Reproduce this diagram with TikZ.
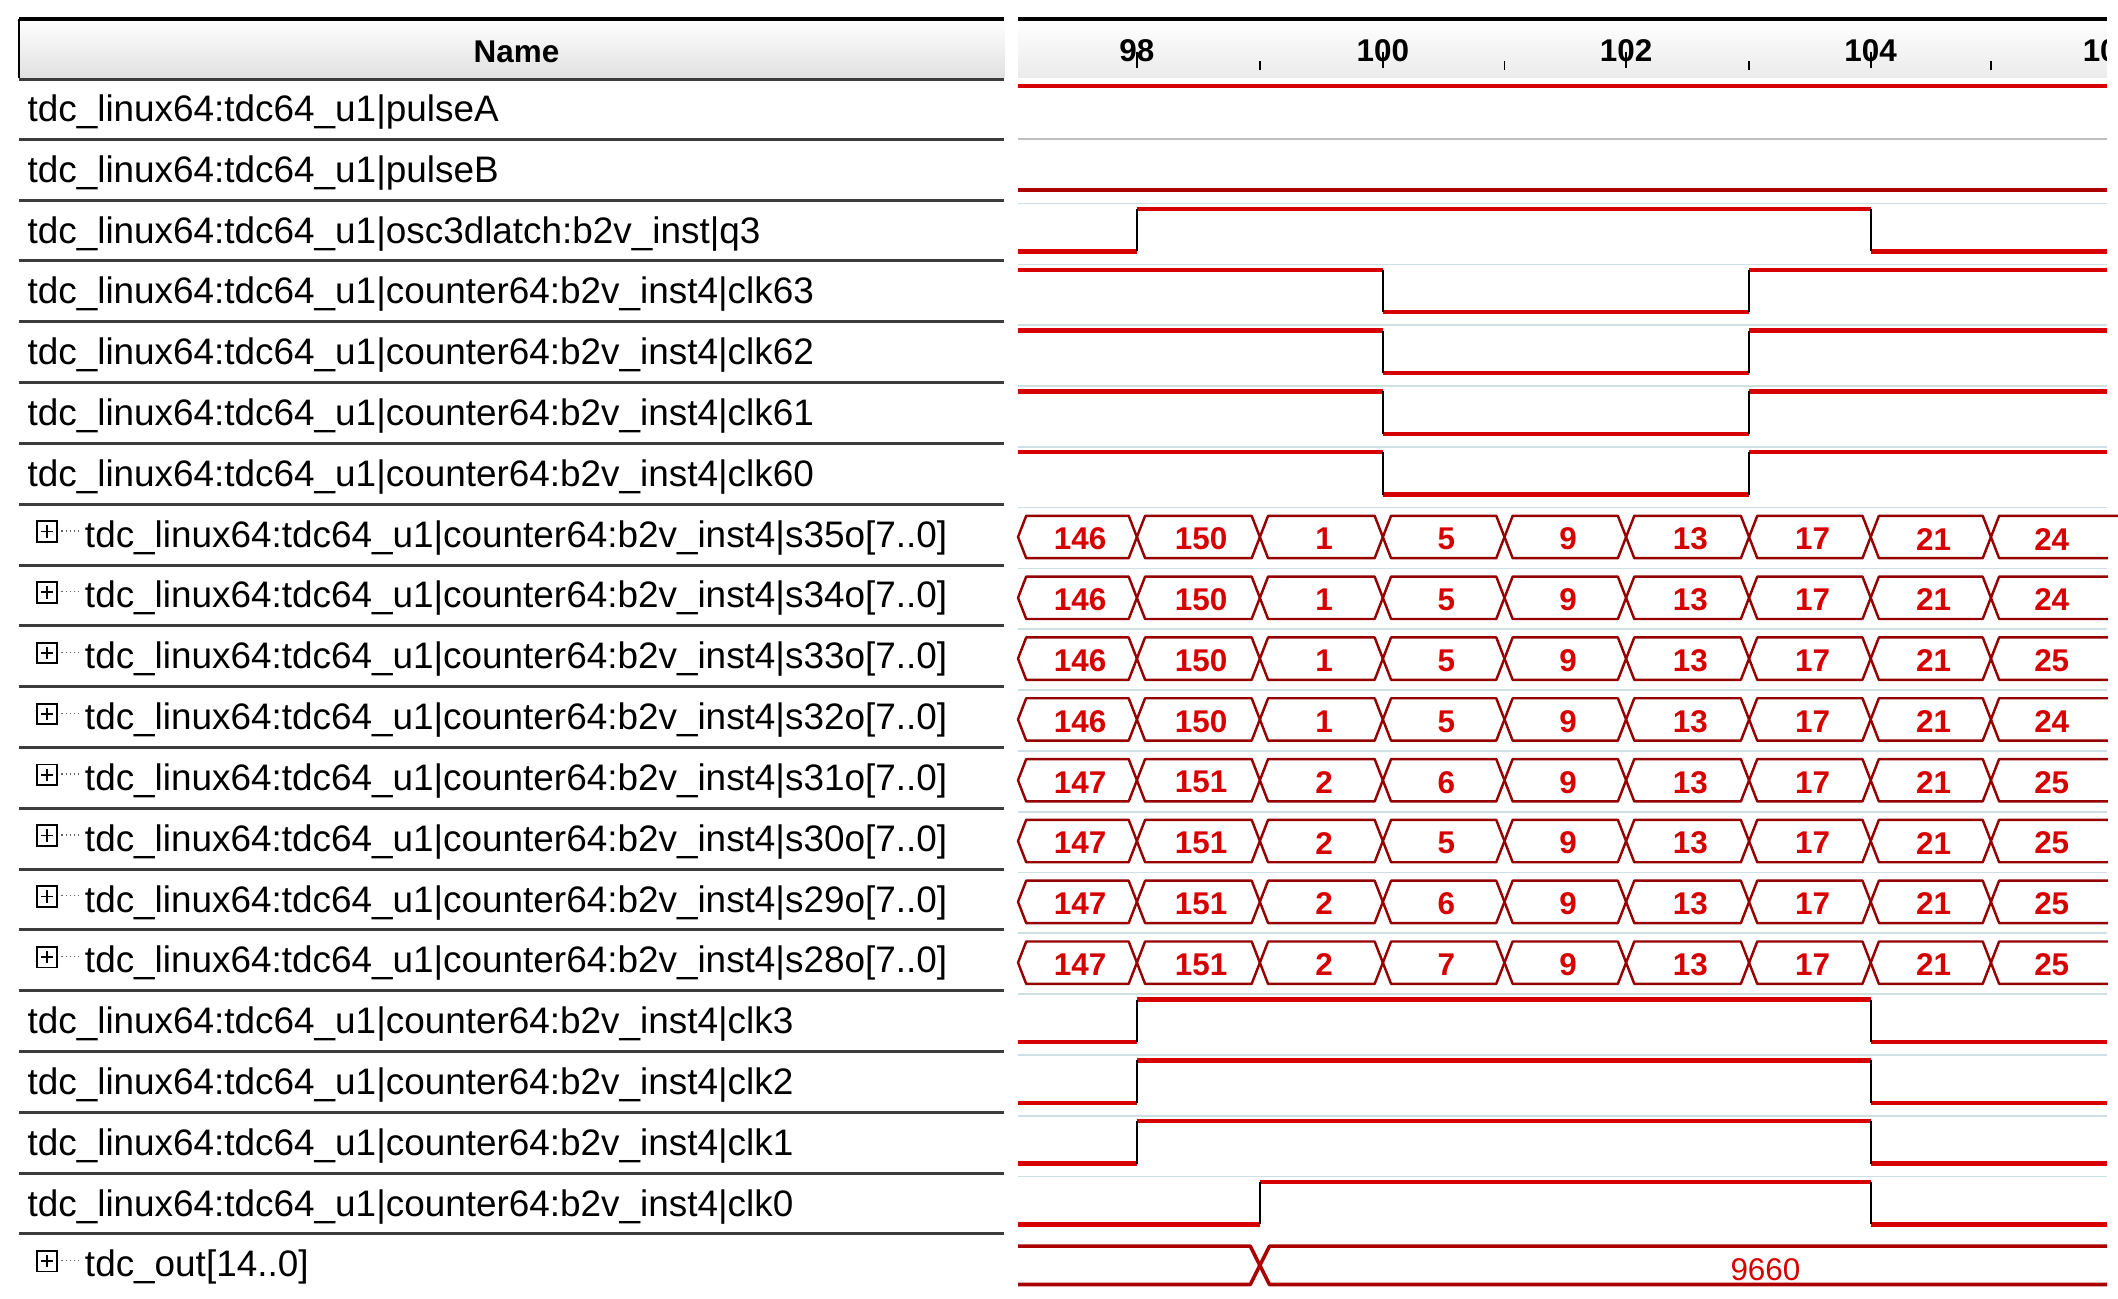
\documentclass[tikz,border=0pt]{standalone}
\usepackage{fontspec}
\setmainfont{Liberation Sans}
\definecolor{wred}{RGB}{215,0,0}
\definecolor{sepgray}{RGB}{60,60,60}
\definecolor{faint}{RGB}{205,225,228}
\begin{document}
\begin{tikzpicture}[x=1pt,y=-1pt,
  lbl/.style={anchor=west,inner sep=0pt,font=\fontsize{27}{27}\selectfont},
  val/.style={inner sep=0pt,text=wred,font=\bfseries\fontsize{23}{23}\selectfont},
  wave/.style={draw=wred,line width=3.2pt},
  edge/.style={draw=black,line width=1.2pt},
  buscell/.style={draw=wred!70!black,line width=1.8pt,line join=round},
  sep/.style={draw=sepgray,line width=2.2pt},
  fsep/.style={draw=faint,line width=1.2pt}]
\useasboundingbox (0,0) rectangle (1550,950);
\fill[white] (0,0) rectangle (1550,950);
% header
\shade[top color=white,bottom color=black!12] (14,14) rectangle (735,57);
\shade[top color=white,bottom color=black!8] (745,14) rectangle (1542,57);
\draw[line width=2.5pt] (14,14) -- (735,14);
\draw[line width=2.5pt] (745,14) -- (1542,14);
\draw[line width=1.5pt] (14,14) -- (14,57);
\draw[sep] (14,58) -- (735,58);
\node[inner sep=0pt,font=\bfseries\fontsize{23}{23}\selectfont] (hname) at (378,38) {Name};
\foreach \t/\x in {98/832,100/1012,102/1190,104/1369}{
  \node[inner sep=0pt,font=\bfseries\fontsize{23}{23}\selectfont] (tk\t) at (\x,37) {\t};
  \draw[line width=1.2pt] (\x,38) -- (\x,50);}
\node[inner sep=0pt,anchor=west,font=\bfseries\fontsize{23}{23}\selectfont] (tk106) at (1524,37) {10};
\fill[white] (1542,14) rectangle (1550,60);
\foreach \x in {922,1101,1280,1457}{\draw[line width=1.2pt] (\x,45) -- (\x,51);}
% labels
\def\pre{tdc\_linux64:tdc64\_u1|}
\def\cnt{counter64:b2v\_inst4|}
\foreach \k/\txt/\bus in {
 0/{\pre pulseA}/0, 1/{\pre pulseB}/0, 2/{\pre osc3dlatch:b2v\_inst|q3}/0,
 3/{\pre\cnt clk63}/0, 4/{\pre\cnt clk62}/0, 5/{\pre\cnt clk61}/0, 6/{\pre\cnt clk60}/0,
 7/{\pre\cnt s35o[7..0]}/1, 8/{\pre\cnt s34o[7..0]}/1, 9/{\pre\cnt s33o[7..0]}/1,
 10/{\pre\cnt s32o[7..0]}/1, 11/{\pre\cnt s31o[7..0]}/1, 12/{\pre\cnt s30o[7..0]}/1,
 13/{\pre\cnt s29o[7..0]}/1, 14/{\pre\cnt s28o[7..0]}/1,
 15/{\pre\cnt clk3}/0, 16/{\pre\cnt clk2}/0, 17/{\pre\cnt clk1}/0, 18/{\pre\cnt clk0}/0,
 19/{tdc\_out[14..0]}/1}{
  \pgfmathsetmacro\yc{83+44.5*\k}
  \ifnum\bus=1
    \draw[line width=1.4pt] (27,\yc-13) rectangle (42,\yc+2);
    \draw[line width=1.3pt] (30,\yc-5.5) -- (39,\yc-5.5) (34.5,\yc-10) -- (34.5,\yc-1);
    \draw[line width=1pt,dotted,black!60] (45,\yc-6) -- (58,\yc-6);
    \node[lbl] (l\k) at (62,\yc-1) {\txt};
  \else
    \node[lbl] (l\k) at (20,\yc-1) {\txt};
  \fi
  \ifnum\k<19 \draw[sep] (14,\yc+19) -- (735,\yc+19); \fi
}
% faint separators in wave area
\foreach \k in {2,...,18}{\pgfmathsetmacro\yy{83+44.5*\k-23}\draw[fsep] (745,\yy) -- (1542,\yy);}
% pulseA / pulseB
\draw[wave] (745,63) -- (1542,63);
\draw[draw=black!25,line width=1.5pt] (745,102) -- (1542,102);
\draw[wave,draw=wred!80!black] (745,139) -- (1542,139);
\newcommand\clkrow[4]{%
  \pgfmathsetmacro\yc{83+44.5*#1}%
  \pgfmathsetmacro\hi{\yc-19}\pgfmathsetmacro\lo{\yc+12}%
  \ifnum#4=1
   \draw[wave] (745,\lo) -- (#2,\lo); \draw[wave] (#2,\hi) -- (#3,\hi); \draw[wave] (#3,\lo) -- (1542,\lo);
   \draw[edge] (#2,\lo) -- (#2,\hi) (#3,\hi) -- (#3,\lo);
  \else
   \draw[wave] (745,\hi) -- (#2,\hi); \draw[wave] (#2,\lo) -- (#3,\lo); \draw[wave] (#3,\hi) -- (1542,\hi);
   \draw[edge] (#2,\hi) -- (#2,\lo) (#3,\lo) -- (#3,\hi);
  \fi}
\clkrow{2}{832}{1369}{1}
\clkrow{3}{1012}{1280}{0}
\clkrow{4}{1012}{1280}{0}
\clkrow{5}{1012}{1280}{0}
\clkrow{6}{1012}{1280}{0}
\clkrow{15}{832}{1369}{1}
\clkrow{16}{832}{1369}{1}
\clkrow{17}{832}{1369}{1}
\clkrow{18}{922}{1369}{1}
% buses
\foreach \k/\vals in {
 7/{146,150,1,5,9,13,17,21,24}, 8/{146,150,1,5,9,13,17,21,24},
 9/{146,150,1,5,9,13,17,21,25}, 10/{146,150,1,5,9,13,17,21,24},
 11/{147,151,2,6,9,13,17,21,25}, 12/{147,151,2,5,9,13,17,21,25},
 13/{147,151,2,6,9,13,17,21,25}, 14/{147,151,2,7,9,13,17,21,25}}{
  \pgfmathsetmacro\yc{83+44.5*\k}
  \pgfmathsetmacro\tp{\yc-17}\pgfmathsetmacro\bt{\yc+14}\pgfmathsetmacro\md{\yc-1.5}
  \foreach \v [count=\i] in \vals {
    \pgfmathsetmacro\xa{{745,832,922,1012,1101,1190,1280,1369,1457}[\i-1]}
    \pgfmathsetmacro\xb{{832,922,1012,1101,1190,1280,1369,1457,1560}[\i-1]}
    \draw[buscell] (\xa,\md) -- (\xa+6,\tp) -- (\xb-6,\tp) -- (\xb,\md) -- (\xb-6,\bt) -- (\xa+6,\bt) -- cycle;
    \pgfmathsetmacro\xc{(\xa+min(\xb,1542))/2+2}
    \node[val] (v\k-\i) at (\xc,\yc) {\v};
  }
}
\fill[white] (1543,390) rectangle (1550,730);
% tdc_out
\draw[buscell,draw=wred!80!black,line width=2.6pt] (745,912) -- (915,912) -- (929,940) -- (1542,940);
\draw[buscell,draw=wred!80!black,line width=2.6pt] (745,940) -- (915,940) -- (929,912) -- (1542,912);
\node[inner sep=0pt,text=wred,font=\fontsize{23}{23}\selectfont] (vout) at (1292,929) {9660};
\end{tikzpicture}
\end{document}
